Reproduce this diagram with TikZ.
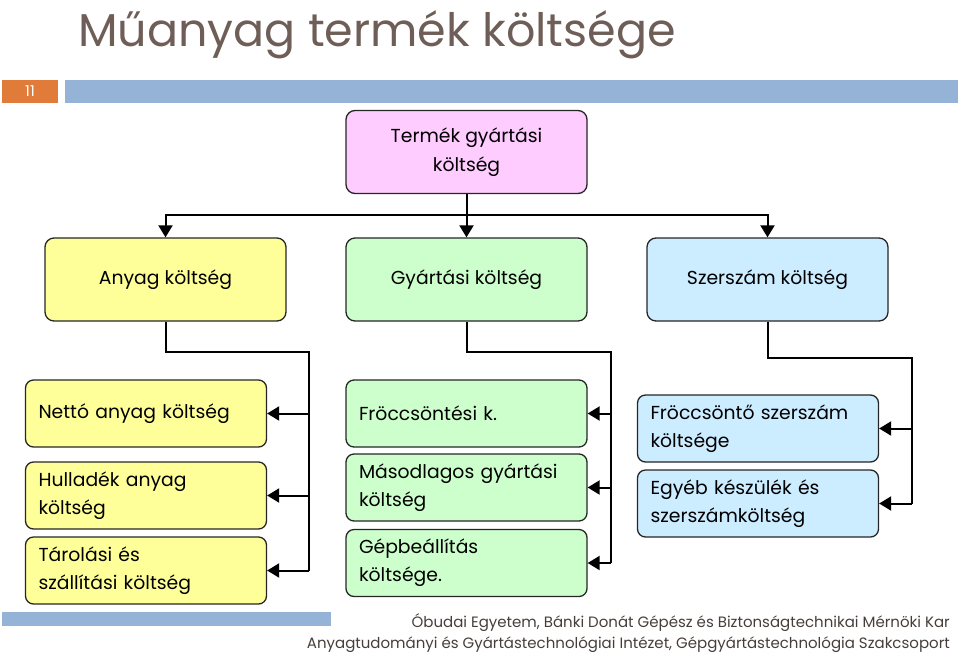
\documentclass[tikz,border=0pt]{standalone}
\usepackage{fontspec}
\setmainfont{Poppins}
\usetikzlibrary{arrows.meta}

\definecolor{titlebrown}{RGB}{110,94,87}
\definecolor{numorange}{RGB}{224,123,57}
\definecolor{barblue}{RGB}{149,179,215}
\definecolor{pinkbox}{RGB}{255,204,255}
\definecolor{yellowbox}{RGB}{255,255,153}
\definecolor{greenbox}{RGB}{204,255,204}
\definecolor{bluebox}{RGB}{204,236,255}
\definecolor{footgray}{RGB}{70,62,58}

\begin{document}
\begin{tikzpicture}[x=1pt,y=-1pt,
    box/.style={draw=black!85,line width=1.3pt,rounded corners=9pt,
        minimum width=241pt,minimum height=83pt,align=center,
        font=\fontsize{18.8}{29}\selectfont},
    subbox/.style={draw=black!85,line width=1.3pt,rounded corners=8pt,
        text width=215pt,inner xsep=13pt,minimum height=67pt,align=left,
        font=\fontsize{18.8}{28}\selectfont},
    conn/.style={line width=2pt},
    arr/.style={conn,-{Triangle[length=12pt,width=14pt]}}]
    \useasboundingbox (0,0) rectangle (960,654);

    % head of the slide
    \node[anchor=base west,inner sep=0,text=titlebrown,
        font=\fontsize{46}{50}\selectfont] (title) at (78,46) {Műanyag termék költsége};
    \node[fill=numorange,minimum width=56pt,minimum height=23pt,inner sep=0,
        text=white,font=\fontsize{15}{15}\selectfont] (num) at (30,91.5) {11};
    \fill[barblue] (65,80) rectangle (958,103);

    % first two levels
    \node[box,fill=pinkbox] (termek) at (466.5,152) {Termék gyártási\\költség};
    \node[box,fill=yellowbox] (anyag) at (165.5,279.5) {Anyag költség};
    \node[box,fill=greenbox] (gyartasi) at (466.5,279.5) {Gyártási költség};
    \node[box,fill=bluebox] (szerszam) at (767.5,279.5) {Szerszám költség};

    \coordinate (split) at (466.5,215);
    \draw[arr] (termek) -- (gyartasi);
    \draw[arr] (split) -| (anyag.north);
    \draw[arr] (split) -| (szerszam.north);

    % material costs
    \node[subbox,fill=yellowbox] (netto) at (146,413.5) {Nettó anyag költség};
    \node[subbox,fill=yellowbox] (hulladek) at (146,495.5) {Hulladék anyag\\költség};
    \node[subbox,fill=yellowbox] (tarolas) at (146,570.5) {Tárolási és\\szállítási költség};
    \coordinate (abus) at (309,352);
    \draw[conn] (anyag.south) |- (abus) -- (abus |- tarolas.east);
    \foreach \n in {netto,hulladek,tarolas}
        \draw[arr] (abus |- \n.east) -- (\n.east);

    % manufacturing costs
    \node[subbox,fill=greenbox] (froccs) at (466.5,413.5) {Fröccsöntési k.};
    \node[subbox,fill=greenbox] (masod) at (466.5,487.5) {Másodlagos gyártási\\költség};
    \node[subbox,fill=greenbox] (gepbe) at (466.5,563) {Gépbeállítás\\költsége.};
    \coordinate (gbus) at (611,352);
    \draw[conn] (gyartasi.south) |- (gbus) -- (gbus |- gepbe.east);
    \foreach \n in {froccs,masod,gepbe}
        \draw[arr] (gbus |- \n.east) -- (\n.east);

    % tool costs
    \node[subbox,fill=bluebox] (szerfr) at (758,428.5) {Fröccsöntő szerszám\\költsége};
    \node[subbox,fill=bluebox] (egyeb) at (758,503.5) {Egyéb készülék és\\szerszámköltség};
    \coordinate (sbus) at (912,358);
    \draw[conn] (szerszam.south) |- (sbus) -- (sbus |- egyeb.east);
    \foreach \n in {szerfr,egyeb}
        \draw[arr] (sbus |- \n.east) -- (\n.east);

    % foot of the slide
    \fill[barblue] (2,612) rectangle (331,626);
    \node[anchor=base east,inner sep=0,text=footgray,font=\fontsize{15}{15}\selectfont]
        (foot1) at (950,627) {Óbudai Egyetem, Bánki Donát Gépész és Biztonságtechnikai Mérnöki Kar};
    \node[anchor=base east,inner sep=0,text=footgray,font=\fontsize{15}{15}\selectfont]
        (foot2) at (950,648) {Anyagtudományi és Gyártástechnológiai Intézet, Gépgyártástechnológia Szakcsoport};
\end{tikzpicture}
\end{document}
